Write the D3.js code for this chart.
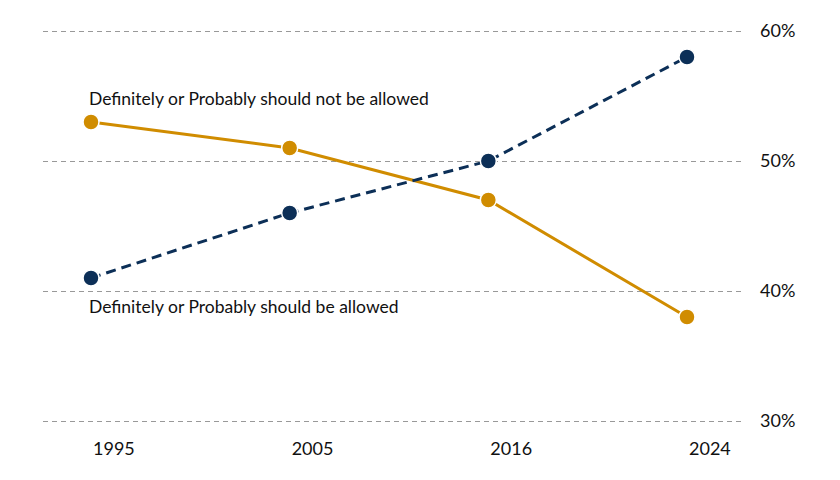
<!DOCTYPE html>
<html>
<head>
<script src="https://d3js.org/d3.v7.min.js"></script>
<style>
  body { margin: 0; background: #fff; }
  text { font-family: "Lato", "Open Sans", sans-serif; fill: #111; }
</style>
</head>
<body>
<div id="chart"></div>
<script>
// Data
const years = ["1995", "2005", "2016", "2024"];
const notAllowed = [53, 51, 47, 38];
const allowed = [41, 46, 50, 58];
const yTicks = [30, 40, 50, 60];

const width = 840, height = 480;

const svg = d3.select("#chart").append("svg")
  .attr("width", width)
  .attr("height", height);

const x = d3.scalePoint()
  .domain(years)
  .range([91, 687]);

const y = d3.scaleLinear()
  .domain([30, 60])
  .range([421, 31]);

// Gridlines
svg.append("g")
  .selectAll("line")
  .data(yTicks)
  .join("line")
  .attr("x1", 43)
  .attr("x2", 745)
  .attr("y1", d => Math.round(y(d)) + 0.5)
  .attr("y2", d => Math.round(y(d)) + 0.5)
  .attr("stroke", "#999")
  .attr("stroke-width", 1)
  .attr("stroke-dasharray", "5,4");

// Right axis labels
svg.append("g")
  .selectAll("text")
  .data(yTicks)
  .join("text")
  .attr("x", 760)
  .attr("y", d => y(d) + 6)
  .attr("font-size", 18)
  .text(d => d + "%");

// X labels (set just right of each point)
svg.append("g")
  .selectAll("text")
  .data(years)
  .join("text")
  .attr("x", d => x(d) + 2)
  .attr("y", 455)
  .attr("font-size", 18)
  .text(d => d);

const line = d3.line()
  .x((d, i) => x(years[i]))
  .y(d => y(d));

function drawSeries(data, color, dash) {
  svg.append("path")
    .datum(data)
    .attr("fill", "none")
    .attr("stroke", color)
    .attr("stroke-width", 3)
    .attr("stroke-dasharray", dash)
    .attr("d", line);

  svg.append("g")
    .selectAll("circle")
    .data(data)
    .join("circle")
    .attr("cx", (d, i) => x(years[i]))
    .attr("cy", d => y(d))
    .attr("r", 8)
    .attr("fill", color)
    .attr("stroke", "#fff")
    .attr("stroke-width", 1.5);
}

drawSeries(notAllowed, "#d08c00", null);
drawSeries(allowed, "#0c2f57", "10,6");

// Series labels
svg.append("text")
  .attr("x", 89)
  .attr("y", 105)
  .attr("font-size", 17.5)
  .text("Definitely or Probably should not be allowed");

svg.append("text")
  .attr("x", 89)
  .attr("y", 313)
  .attr("font-size", 17.5)
  .text("Definitely or Probably should be allowed");
</script>
</body>
</html>
